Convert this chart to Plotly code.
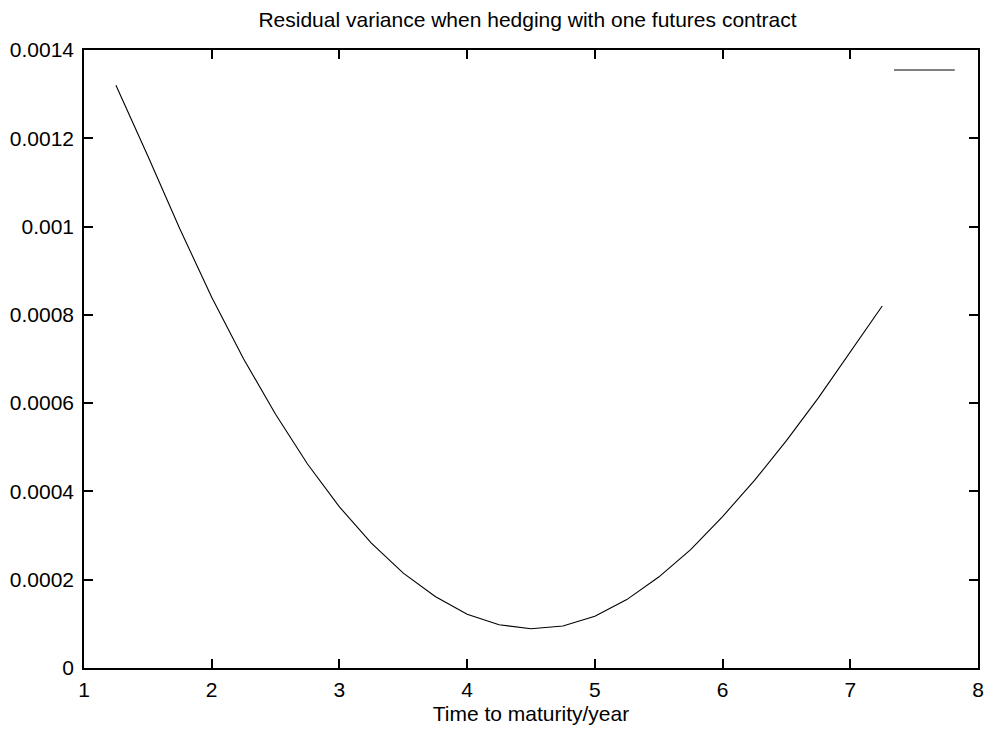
import plotly.graph_objects as go

# Data
maturity = [1.25, 1.5, 1.75, 2.0, 2.25, 2.5, 2.75, 3.0, 3.25, 3.5, 3.75, 4.0, 4.25,
            4.5, 4.75, 5.0, 5.25, 5.5, 5.75, 6.0, 6.25, 6.5, 6.75, 7.0, 7.25]
residual_variance = [0.00132, 0.00116, 0.000995, 0.00084, 0.000700, 0.000575, 0.000462,
                     0.000365, 0.000283, 0.000215, 0.000162, 0.000122, 0.000098,
                     0.000089, 0.000095, 0.000117, 0.000155, 0.000206, 0.000268,
                     0.000343, 0.000425, 0.000515, 0.000612, 0.000715, 0.00082]

title_text = "Residual variance when hedging with one futures contract"
x_label = "Time to maturity/year"

FONT = "Liberation Sans, Arial, Helvetica, sans-serif"
FS = 21

fig = go.Figure()
fig.add_trace(go.Scatter(
    x=maturity, y=residual_variance, mode="lines",
    line=dict(color="black", width=1.1), name="", showlegend=False,
    hoverinfo="x+y",
))

axis_common = dict(
    showline=True, linecolor="black", linewidth=1.5, mirror="ticks",
    ticks="inside", ticklen=9, tickwidth=1.5, tickcolor="black",
    showgrid=False, zeroline=False, automargin=False,
    ticklabeloverflow="allow",
    tickfont=dict(family=FONT, size=FS, color="black"),
)

fig.update_layout(
    width=985, height=729,
    margin=dict(l=84, r=7, t=50, b=61),
    paper_bgcolor="white", plot_bgcolor="white",
    font=dict(family=FONT, size=FS, color="black"),
    showlegend=False,
    title=dict(text=title_text, x=527.5 / 985, xref="container", xanchor="center",
               y=1 - 20 / 729, yref="container", yanchor="middle",
               automargin=False,
               font=dict(family=FONT, size=FS, color="black")),
    xaxis=dict(range=[1, 8], tick0=1, dtick=1, ticklabelstandoff=2,
               title=dict(text=x_label, standoff=6,
                          font=dict(family=FONT, size=FS, color="black")),
               **axis_common),
    yaxis=dict(range=[0, 0.0014], tick0=0, dtick=0.0002, tickformat=".4~f",
               exponentformat="none", ticklabelstandoff=4,
               **axis_common),
    shapes=[dict(type="line", xref="paper", yref="paper",
                 x0=0.906, x1=0.974, y0=0.9676, y1=0.9676,
                 line=dict(color="black", width=1.2))],
)

fig.write_html(
    "out.html",
    config={"displayModeBar": False},
    post_script="document.body.style.margin='0';document.body.style.overflow='hidden';",
)
